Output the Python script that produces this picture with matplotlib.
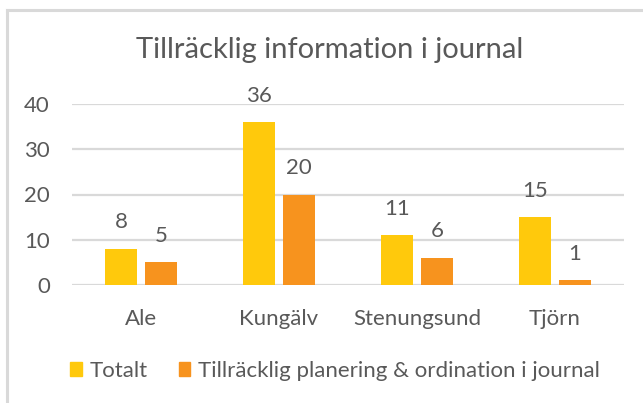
import matplotlib
matplotlib.use("Agg")
import matplotlib.pyplot as plt
import numpy as np
from matplotlib.patches import Rectangle
from matplotlib.lines import Line2D

categories = ["Ale", "Kungälv", "Stenungsund", "Tjörn"]
totalt = [8, 36, 11, 15]
planering = [5, 20, 6, 1]
series_names = ["Totalt", "Tillräcklig planering & ordination i journal"]
yticks = [0, 10, 20, 30, 40]
title = "Tillräcklig information i journal"

c_yellow = "#FFC90C"
c_orange = "#F7931E"
txt = "#595959"
grid = "#D9D9D9"

plt.rcParams['font.family'] = ['Lato', 'DejaVu Sans']

W, H = 643, 403
fig = plt.figure(figsize=(W / 100, H / 100), dpi=100)

def fx(px):
    return px / W

def fy(py):
    return 1 - py / H

FS = 16

# axes: plot area x 72..624, y (40) 104 .. (0) 285
ax = fig.add_axes([fx(72), fy(285), fx(624) - fx(72), fy(104) - fy(285)])
x = np.arange(len(categories))
bw = 0.225
off = 0.145
b1 = ax.bar(x - off, totalt, bw, color=c_yellow, zorder=3)
b2 = ax.bar(x + off, planering, bw, color=c_orange, zorder=3)
ax.set_xlim(-0.5, len(categories) - 0.5)
ax.set_ylim(0, 40)
ax.set_yticks(yticks)
ax.set_yticklabels([str(v) for v in yticks])
for v in yticks:
    ax.axhline(v, color=grid, lw=1.6, zorder=1)
for s in ax.spines.values():
    s.set_visible(False)
ax.tick_params(axis='both', length=0, labelsize=FS, colors=txt)
ax.tick_params(axis='y', pad=16)
ax.tick_params(axis='x', pad=17)
ax.set_xticks(x)
ax.set_xticklabels(categories)

for bars, vals in ((b1, totalt), (b2, planering)):
    for r, v in zip(bars, vals):
        ax.annotate(str(v), (r.get_x() + r.get_width() / 2, v), xytext=(0, 19),
                    textcoords='offset points', ha='center', va='center',
                    fontsize=FS, color=txt)

fig.text(fx(330), fy(50), title, ha='center', va='center', fontsize=21, color=txt)

# legend
handles = [Rectangle((0, 0), 1, 1, color=c_yellow), Rectangle((0, 0), 1, 1, color=c_orange)]
leg = fig.legend(handles, series_names, loc='center left', bbox_to_anchor=(fx(70), fy(371)),
                 ncol=2, frameon=False, fontsize=FS, handlelength=0.52, handleheight=0.55,
                 handletextpad=0.36, columnspacing=1.4, labelcolor=txt,
                 borderpad=0, borderaxespad=0)

# border (left and top)
fig.add_artist(Line2D([fx(7), fx(7)], [fy(10), 0], color=grid, lw=2.2))
fig.add_artist(Line2D([fx(7), 1], [fy(10), fy(10)], color=grid, lw=2.2))

fig.savefig("out.png", dpi=100)
